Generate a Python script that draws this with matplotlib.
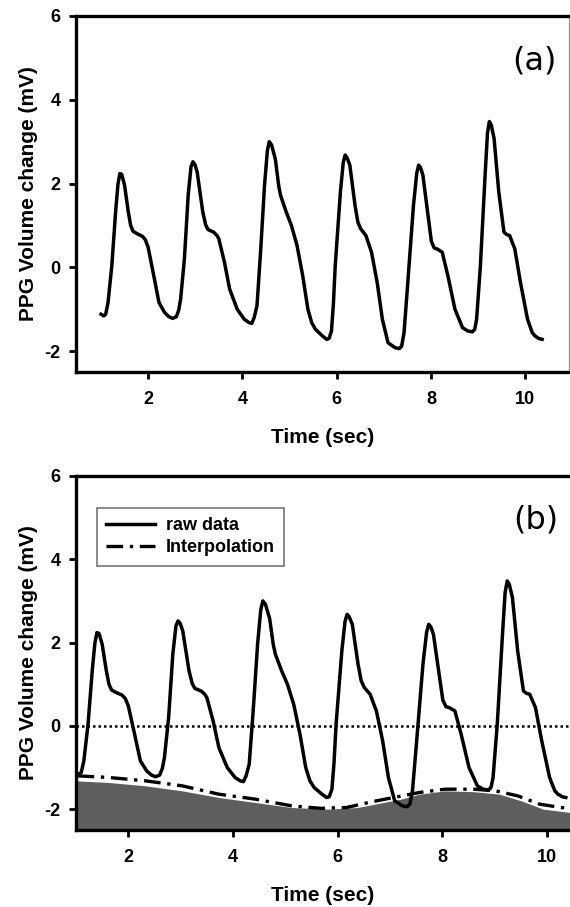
import matplotlib
matplotlib.use("Agg")
import matplotlib.pyplot as plt

plt.rcParams['font.family'] = ['Liberation Sans', 'DejaVu Sans']
plt.rcParams['axes.unicode_minus'] = False

# raw PPG trace (time in sec, volume in mV)
raw_t = [1.00, 1.06, 1.10, 1.15, 1.23, 1.31, 1.36, 1.40, 1.44, 1.50, 1.58, 1.63,
         1.68, 1.77, 1.88, 1.94, 2.00, 2.12, 2.23, 2.35, 2.44, 2.52, 2.60, 2.65,
         2.69, 2.77, 2.85, 2.91, 2.95, 2.99, 3.04, 3.16, 3.22, 3.27, 3.39, 3.46,
         3.50, 3.62, 3.73, 3.89, 4.04, 4.14, 4.20, 4.25, 4.31, 4.39, 4.47, 4.53,
         4.57, 4.62, 4.70, 4.77, 4.81, 4.93, 5.04, 5.16, 5.28, 5.39, 5.47, 5.55,
         5.70, 5.79, 5.84, 5.89, 5.93, 5.97, 6.08, 6.14, 6.18, 6.22, 6.28, 6.39,
         6.45, 6.51, 6.62, 6.74, 6.86, 6.97, 7.09, 7.24, 7.33, 7.38, 7.43, 7.51,
         7.63, 7.70, 7.74, 7.78, 7.83, 7.93, 8.01, 8.07, 8.13, 8.24, 8.36, 8.51,
         8.67, 8.78, 8.88, 8.93, 8.97, 9.05, 9.15, 9.20, 9.24, 9.28, 9.34, 9.44,
         9.55, 9.61, 9.67, 9.78, 9.90, 10.05, 10.15, 10.21, 10.29, 10.36]
raw_v = [-1.12, -1.16, -1.12, -0.84, 0.04, 1.32, 1.98, 2.24, 2.22, 1.96, 1.32, 1.00,
         0.86, 0.80, 0.74, 0.66, 0.48, -0.20, -0.84, -1.08, -1.18, -1.22, -1.18, -1.02,
         -0.76, 0.20, 1.72, 2.40, 2.52, 2.46, 2.28, 1.32, 1.02, 0.90, 0.84, 0.76,
         0.68, 0.12, -0.52, -1.00, -1.24, -1.32, -1.34, -1.20, -0.92, 0.44, 1.96, 2.78,
         3.00, 2.92, 2.58, 1.95, 1.72, 1.32, 1.00, 0.52, -0.20, -1.00, -1.32, -1.48,
         -1.64, -1.72, -1.70, -1.52, -0.90, 0.04, 1.80, 2.50, 2.68, 2.62, 2.44, 1.48,
         1.08, 0.92, 0.76, 0.36, -0.36, -1.24, -1.80, -1.92, -1.94, -1.88, -1.56, -0.36,
         1.48, 2.25, 2.44, 2.38, 2.20, 1.32, 0.62, 0.46, 0.44, 0.36, -0.20, -1.00,
         -1.44, -1.52, -1.54, -1.48, -1.24, 0.04, 2.20, 3.20, 3.48, 3.40, 3.08, 1.80,
         0.84, 0.78, 0.76, 0.44, -0.36, -1.24, -1.56, -1.64, -1.70, -1.72]

# interpolated baseline (dash-dot) in panel (b)
interp_t = [1.03, 1.64, 2.33, 3.03, 3.73, 4.43, 5.12, 5.68, 6.17, 6.66, 7.07,
            7.56, 8.05, 8.60, 9.02, 9.44, 9.86, 10.27, 10.45]
interp_v = [-1.20, -1.24, -1.32, -1.44, -1.64, -1.76, -1.92, -1.98, -1.96, -1.82,
            -1.72, -1.60, -1.52, -1.52, -1.56, -1.68, -1.88, -1.96, -1.98]

# top edge of the grey filled area
fill_t = [1.00, 1.64, 2.33, 3.03, 3.73, 4.43, 5.12, 5.82, 6.38, 6.87, 7.21,
          7.56, 8.05, 8.60, 9.09, 9.51, 9.93, 10.45]
fill_v = [-1.32, -1.36, -1.44, -1.56, -1.72, -1.84, -1.96, -2.00, -1.96, -1.84,
          -1.76, -1.64, -1.56, -1.58, -1.64, -1.80, -2.00, -2.08]

xticks = [2, 4, 6, 8, 10]
yticks = [-2, 0, 2, 4, 6]

W, H = 570, 907
fig = plt.figure(figsize=(W / 100, H / 100), dpi=100)
ax_a = fig.add_axes([76 / W, 1 - 372 / H, 493 / W, 356 / H])
ax_b = fig.add_axes([76 / W, 1 - 830 / H, 494 / W, 354 / H])


def style_axes(ax, xlim):
    ax.set_xlim(*xlim)
    ax.set_ylim(-2.5, 6)
    ax.set_xticks(xticks)
    ax.set_yticks(yticks)
    ax.tick_params(direction='out', length=5, width=2, labelsize=13)
    ax.tick_params(axis='x', pad=9)
    ax.tick_params(axis='y', pad=6)
    for lab in ax.get_xticklabels() + ax.get_yticklabels():
        lab.set_fontweight('bold')
    for side in ['left', 'top', 'bottom']:
        ax.spines[side].set_linewidth(2.4)
    ax.set_xlabel('Time (sec)', fontsize=15, fontweight='bold', labelpad=14)
    ax.set_ylabel('PPG Volume change (mV)', fontsize=15, fontweight='bold', labelpad=5)


# panel (a)
ax_a.plot(raw_t, raw_v, color='black', lw=2.5, solid_joinstyle='round')
style_axes(ax_a, (0.47, 10.93))
ax_a.spines['right'].set_color('#999999')
ax_a.spines['right'].set_linewidth(1)
ax_a.text(0.93, 0.875, '(a)', transform=ax_a.transAxes, fontsize=23,
          ha='center', va='center', family='DejaVu Sans')

# panel (b)
ax_b.fill_between(fill_t, fill_v, -2.5, color='#5e5e5e', lw=0)
ax_b.axhline(0, color='black', lw=1.8, linestyle=(0, (1, 1.2)))
ax_b.plot(interp_t, interp_v, color='black', lw=2.4,
          linestyle=(0, (5, 2, 1, 2)), label='Interpolation')
ax_b.plot(raw_t, raw_v, color='black', lw=2.5, solid_joinstyle='round',
          label='raw data')
style_axes(ax_b, (1.0, 10.44))
ax_b.spines['right'].set_visible(False)
ax_b.text(0.93, 0.875, '(b)', transform=ax_b.transAxes, fontsize=23,
          ha='center', va='center', family='DejaVu Sans')

handles, labels = ax_b.get_legend_handles_labels()
leg = ax_b.legend(handles[::-1], labels[::-1], loc='upper left',
                  bbox_to_anchor=(0.025, 0.935), fancybox=False,
                  edgecolor='#555555', handlelength=2.7, handletextpad=0.6,
                  borderpad=0.5, labelspacing=0.3,
                  prop={'weight': 'bold', 'size': 13})
leg.get_frame().set_linewidth(1.2)

fig.savefig('out.png', dpi=100)
